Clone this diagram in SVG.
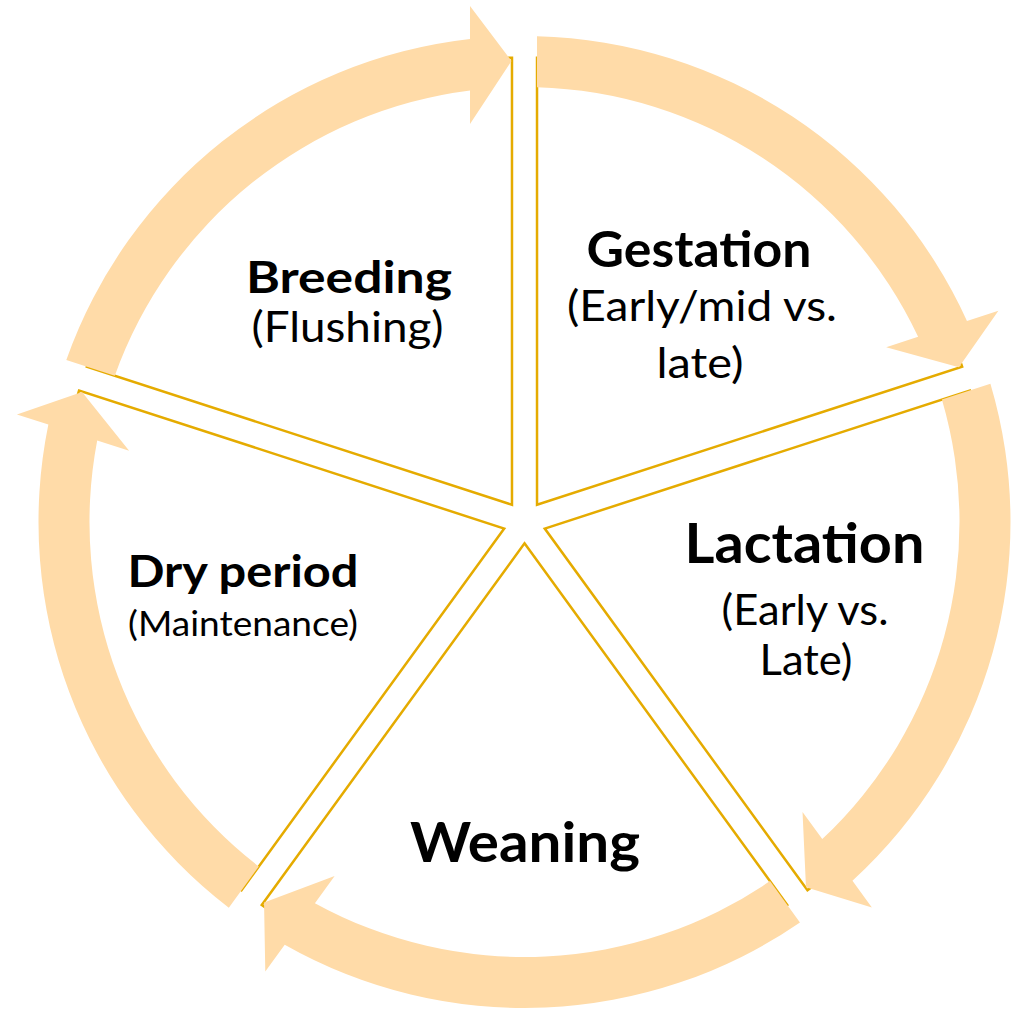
<svg xmlns="http://www.w3.org/2000/svg" width="1025" height="1011" viewBox="0 0 1025 1011">
<style>
.wedge{fill:#ffffff;stroke:#E5AB00;stroke-width:2.5;stroke-linejoin:miter}
.arrow{fill:#FFDBA8;stroke:none}
.h{font-family:"Lato","Open Sans",sans-serif;font-weight:700;fill:#000;text-anchor:middle}
.s{font-family:"Lato","Open Sans",sans-serif;font-weight:400;fill:#000;text-anchor:middle}
</style>
<defs>
<path id="wedgeShape" d="M 12.52,-17.23 L 12.52,-464.23 A 447 447 0 0 1 437.64,-155.36 Z"/>
<path id="arrowShape" d="M -458.19,-162.02 A 486 486 0 0 1 -54.5,-482.94 L -54.5,-516 L -13,-461 L -54.5,-398 L -54.5,-431.58 A 435 435 0 0 0 -409.68,-146.25 Z"/>
</defs>
<rect x="0" y="0" width="1025" height="1011" fill="#ffffff"/>
<g id="breeding">
<use href="#wedgeShape" class="wedge" transform="translate(524.5,522) rotate(-72)"/>
<text class="h" x="349" y="293" font-size="44" textLength="206" lengthAdjust="spacingAndGlyphs">Breeding</text>
<text class="s" x="347.5" y="342" font-size="42" textLength="192" lengthAdjust="spacingAndGlyphs">(Flushing)</text>
</g>
<g id="gestation">
<use href="#wedgeShape" class="wedge" transform="translate(524.5,522)"/>
<text class="h" x="699" y="267" font-size="49" textLength="225" lengthAdjust="spacingAndGlyphs">Gestation</text>
<text class="s" x="702" y="321" font-size="43" textLength="270" lengthAdjust="spacingAndGlyphs">(Early/mid vs.</text>
<text class="s" x="700" y="378" font-size="43" textLength="87" lengthAdjust="spacingAndGlyphs">late)</text>
</g>
<g id="lactation">
<use href="#wedgeShape" class="wedge" transform="translate(524.5,522) rotate(72)"/>
<text class="h" x="804.5" y="563" font-size="54.7" textLength="240" lengthAdjust="spacingAndGlyphs">Lactation</text>
<text class="s" x="805" y="625" font-size="42" textLength="167" lengthAdjust="spacingAndGlyphs">(Early vs.</text>
<text class="s" x="806" y="675" font-size="42" textLength="93" lengthAdjust="spacingAndGlyphs">Late)</text>
</g>
<g id="weaning">
<use href="#wedgeShape" class="wedge" transform="translate(524.5,522) rotate(144)"/>
<text class="h" x="525" y="862" font-size="55" textLength="230" lengthAdjust="spacingAndGlyphs">Weaning</text>
</g>
<g id="dry-period">
<use href="#wedgeShape" class="wedge" transform="translate(524.5,522) rotate(216)"/>
<text class="h" x="243" y="587" font-size="43" textLength="231" lengthAdjust="spacingAndGlyphs">Dry period</text>
<text class="s" x="243" y="636" font-size="35" textLength="230" lengthAdjust="spacingAndGlyphs">(Maintenance)</text>
</g>
<g id="connectors">
<use href="#arrowShape" class="arrow" transform="translate(524.5,522)"/>
<use href="#arrowShape" class="arrow" transform="translate(524.5,522) rotate(72)"/>
<use href="#arrowShape" class="arrow" transform="translate(524.5,522) rotate(144)"/>
<use href="#arrowShape" class="arrow" transform="translate(524.5,522) rotate(216)"/>
<use href="#arrowShape" class="arrow" transform="translate(524.5,522) rotate(288)"/>
</g>
</svg>
